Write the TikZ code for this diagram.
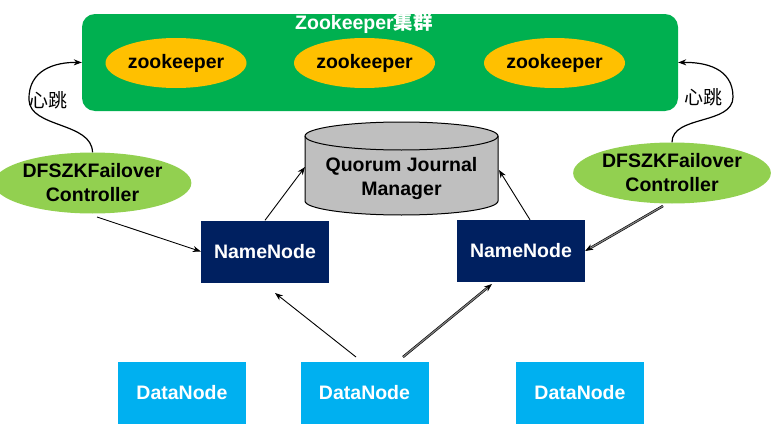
\documentclass[tikz,border=0pt]{standalone}
\usepackage{fontspec}
\setmainfont{Liberation Sans}
\newfontfamily\cjk{Noto Sans CJK SC}
\usetikzlibrary{arrows.meta,shapes.geometric}
\definecolor{zkgreen}{HTML}{00B050}
\definecolor{zkyellow}{HTML}{FFC000}
\definecolor{fcgreen}{HTML}{92D050}
\definecolor{nnblue}{HTML}{002060}
\definecolor{dnblue}{HTML}{00B0F0}
\definecolor{cylgray}{HTML}{BFBFBF}
\tikzset{
  lbl/.style={font=\fontsize{19.5}{24}\selectfont\bfseries, align=center, inner sep=0pt},
  zkell/.style={ellipse, fill=zkyellow, minimum width=141pt, minimum height=50pt, lbl},
  fcell/.style={ellipse, fill=fcgreen, minimum width=179pt, minimum height=61pt, lbl},
  nnbox/.style={rectangle, fill=nnblue, text=white, minimum width=128pt, minimum height=62pt, lbl},
  dnbox/.style={rectangle, fill=dnblue, text=white, minimum width=128pt, minimum height=62pt, lbl},
  arr/.style={-{Stealth[length=8pt,width=6pt]}, line width=0.9pt, black},
  darr/.style={-{Stealth[length=8pt,width=6pt]}, line width=0.6pt, draw=black, double=gray, double distance=1.2pt},
  hbarr/.style={-{Stealth[length=8pt,width=6pt]}, line width=1.2pt, black},
  hb/.style={font=\fontsize{19}{22}\selectfont\cjk, inner sep=0pt},
}
\begin{document}
\begin{tikzpicture}[x=1pt,y=-1pt]
\useasboundingbox (0,0) rectangle (772,431);
\fill[white] (0,0) rectangle (772,431);
% zookeeper cluster
\node[rectangle, rounded corners=13pt, fill=zkgreen, minimum width=596pt, minimum height=97pt, inner sep=0pt] (zkc) at (380,62.5) {};
\node[lbl, text=white] (zkt) at (364,23) {Zookeeper{\cjk 集群}};
\node[zkell] (zk1) at (176,63) {zookeeper};
\node[zkell] (zk2) at (364.5,63) {zookeeper};
\node[zkell] (zk3) at (554.5,63) {zookeeper};
% cylinder
\node[rectangle, minimum width=193pt, minimum height=93pt, inner sep=0pt] (qjm) at (401.5,168.5) {};
\filldraw[fill=cylgray, draw=black, line width=1pt]
  (305,136) -- (305,201) arc[start angle=180, end angle=360, x radius=96.5pt, y radius=14pt]
  -- (498,136) arc[start angle=0, end angle=180, x radius=96.5pt, y radius=14pt] -- cycle;
\draw[black, line width=1pt] (305,136) arc[start angle=180, end angle=360, x radius=96.5pt, y radius=14pt];
\node[lbl] (qjmt) at (401.5,178) {Quorum Journal\\Manager};
\coordinate (cylL) at (305,167);
\coordinate (cylR) at (499,170);
% failover controllers
\node[fcell] (fcL) at (92.5,183) {DFSZKFailover\\Controller};
\node[fcell] (fcR) at (672,173) {DFSZKFailover\\Controller};
% namenodes
\node[nnbox] (nnL) at (265,251.5) {NameNode};
\node[nnbox] (nnR) at (521,251) {NameNode};
% datanodes
\node[dnbox] (dn1) at (182,393) {DataNode};
\node[dnbox] (dn2) at (364.5,393) {DataNode};
\node[dnbox] (dn3) at (580,393) {DataNode};
% connectors
\coordinate (fcLo) at (97,217);
\coordinate (fcRo) at (663,206);
\coordinate (dn2a) at (356,357);
\coordinate (dn2b) at (403,357);
\coordinate (nnLb) at (275,293);
\coordinate (nnRb) at (492,284);
\draw[arr] (fcLo) -- (nnL.west);
\draw[arr] (nnL.north) -- (cylL);
\draw[arr] ([xshift=9pt]nnR.north) -- (cylR);
\draw[darr] (fcRo) -- (nnR.east);
\draw[arr] (dn2a) -- (nnLb);
\draw[darr] (dn2b) -- (nnRb);
% heartbeats
\draw[hbarr] (fcL.north) .. controls (92,122) and (30,128) .. (29,100) .. controls (28,70) and (55,62) .. (zkc.west);
\draw[hbarr] (fcR.north) .. controls (672,115) and (733,125) .. (733,97) .. controls (733,68) and (705,62) .. (zkc.east);
\node[hb] (hbL) at (48,100) {心跳};
\node[hb] (hbR) at (703,97) {心跳};
\end{tikzpicture}
\end{document}
